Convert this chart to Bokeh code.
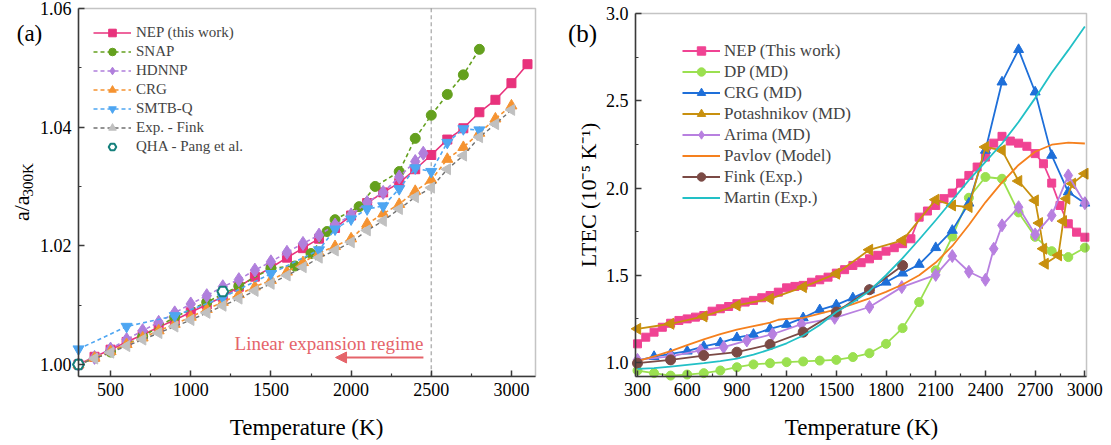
import math
from bokeh.plotting import figure
from bokeh.layouts import row
from bokeh.models import (Range1d, FixedTicker, NumeralTickFormatter, Legend, LegendItem,
                          Label, Arrow, NormalHead, BoxAnnotation)
from bokeh.embed import file_html
from bokeh.resources import INLINE

FONT = "Liberation Serif"

# ---------------- (a) lattice parameter ratio ----------------
T_NEP_A = list(range(300, 3101, 100))
NEP_A = [1.000, 1.0013, 1.0025, 1.0038, 1.0050, 1.0063, 1.0075, 1.0088, 1.0101, 1.0114,
         1.0131, 1.0148, 1.0163, 1.0180, 1.0196, 1.0212, 1.0230, 1.0251, 1.0272, 1.0290,
         1.0306, 1.0329, 1.0353, 1.0379, 1.0398, 1.0425, 1.0446, 1.0474, 1.0506]
T_SNAP = [300, 500, 700, 900, 1100, 1300, 1500, 1650, 1750, 1850, 1900, 2050, 2150,
          2300, 2400, 2500, 2600, 2700, 2800]
SNAP = [1.000, 1.0021, 1.0047, 1.0080, 1.0105, 1.0132, 1.0162, 1.0166, 1.0187, 1.0224,
        1.0244, 1.0266, 1.0300, 1.0325, 1.0381, 1.0420, 1.0455, 1.0488, 1.0531]
T_HDNNP = list(range(300, 2401, 100)) + [2450]
HDNNP = [1.000, 1.0012, 1.0026, 1.0042, 1.0057, 1.0071, 1.0087, 1.0102, 1.0116, 1.0131,
         1.0143, 1.0159, 1.0173, 1.0189, 1.0204, 1.0218, 1.0235, 1.0252, 1.0273, 1.0290,
         1.0316, 1.0342, 1.0356]
T_CRG_A = list(range(300, 3001, 100))
CRG_A = [1.000, 1.0011, 1.0022, 1.0034, 1.0045, 1.0057, 1.0068, 1.0080, 1.0093, 1.0105,
         1.0118, 1.0131, 1.0142, 1.0156, 1.0172, 1.0188, 1.0199, 1.0212, 1.0237, 1.0254,
         1.0270, 1.0292, 1.0311, 1.0346, 1.0366, 1.0390, 1.0414, 1.0436]
T_SMTBQ = [300, 600, 900, 1200, 1500, 1800, 1900, 2000, 2100, 2200, 2300, 2400, 2500,
           2600, 2700, 2800]
SMTBQ = [1.0026, 1.0064, 1.0082, 1.0113, 1.0153, 1.0193, 1.0228, 1.0245, 1.0262, 1.0267,
         1.0296, 1.0331, 1.0325, 1.0374, 1.0397, 1.0395]
T_FINK_A = list(range(300, 3001, 100))
FINK_A = [1.000, 1.0010, 1.0020, 1.0031, 1.0042, 1.0053, 1.0064, 1.0075, 1.0087, 1.0099,
          1.0111, 1.0124, 1.0136, 1.0150, 1.0164, 1.0180, 1.0192, 1.0206, 1.0226, 1.0242,
          1.0262, 1.0282, 1.0298, 1.0329, 1.0352, 1.0383, 1.0405, 1.0429]
T_QHA = [300, 1200]
QHA = [1.000, 1.0123]

XTICKS_A = [500, 1000, 1500, 2000, 2500, 3000]
XMINOR_A = [750, 1250, 1750, 2250, 2750]
YTICKS_A = [1.00, 1.02, 1.04, 1.06]
YMINOR_A = [1.01, 1.03, 1.05]
XLIM_A = (300, 3150)
YLIM_A = (0.998, 1.06)
LINEAR_LIMIT_T = 2500

# ---------------- (b) LTEC ----------------
T_NEP_B = list(range(300, 3001, 50))
NEP_B = [1.107, 1.145, 1.174, 1.202, 1.225, 1.241, 1.250, 1.260, 1.269, 1.294,
         1.308, 1.321, 1.337, 1.346, 1.356, 1.371, 1.384, 1.403, 1.428, 1.436,
         1.442, 1.460, 1.474, 1.489, 1.512, 1.532, 1.556, 1.572, 1.594, 1.614,
         1.638, 1.658, 1.681, 1.709, 1.833, 1.868, 1.900, 1.939, 1.971, 2.028,
         2.072, 2.120, 2.177, 2.257, 2.296, 2.269, 2.257, 2.239, 2.197, 2.139,
         2.028, 1.900, 1.795, 1.747, 1.718]
T_DP = list(range(300, 3001, 100))
DP = [0.954, 0.939, 0.925, 0.931, 0.939, 0.954, 0.973, 0.989, 0.996, 1.002,
      1.006, 1.011, 1.015, 1.031, 1.053, 1.107, 1.197, 1.346, 1.528, 1.722,
      1.944, 2.063, 2.053, 1.860, 1.720, 1.638, 1.604, 1.658]
T_CRG_B = list(range(300, 3001, 100))
CRG_B = [1.011, 1.034, 1.050, 1.065, 1.092, 1.113, 1.142, 1.161, 1.193, 1.218,
         1.256, 1.302, 1.330, 1.370, 1.415, 1.460, 1.512, 1.562, 1.658, 1.757,
         1.913, 2.216, 2.607, 2.793, 2.550, 2.187, 1.977, 1.913]
T_POT = [300, 500, 700, 900, 1100, 1300, 1500, 1700, 1900, 2100, 2200, 2300, 2400, 2500,
         2600, 2700, 2725, 2750, 2760, 2840, 2870, 2890, 2925, 3000]
POT = [1.193, 1.222, 1.264, 1.327, 1.365, 1.432, 1.509, 1.646, 1.700, 1.933, 1.900, 1.891,
       2.235, 2.216, 2.040, 1.929, 1.799, 1.652, 1.566, 1.614, 1.810, 1.939, 2.025, 2.082]
T_ARIMA = [300, 500, 680, 820, 960, 1115, 1290, 1490, 1700, 1895, 2100, 2200, 2300, 2400,
           2450, 2500, 2600, 2700, 2800, 2900, 3000]
ARIMA = [1.015, 1.035, 1.069, 1.088, 1.126, 1.162, 1.220, 1.256, 1.318, 1.432, 1.502, 1.610,
         1.520, 1.474, 1.652, 1.786, 1.890, 1.734, 1.843, 2.072, 1.913]
T_PAV = [300, 400, 500, 600, 700, 800, 900, 1000, 1100, 1150, 1200, 1300, 1400, 1500, 1600,
         1700, 1800, 1900, 2000, 2100, 2200, 2300, 2400, 2500, 2600, 2700, 2800, 2900, 3000]
PAV = [1.008, 1.035, 1.065, 1.100, 1.132, 1.162, 1.188, 1.208, 1.228, 1.245, 1.250, 1.256,
       1.280, 1.305, 1.335, 1.368, 1.405, 1.447, 1.500, 1.573, 1.668, 1.788, 1.918, 2.032,
       2.132, 2.208, 2.248, 2.260, 2.255]
T_FINK_B = [300, 500, 700, 900, 1100, 1300, 1500, 1700, 1900]
FINK_B = [0.996, 1.015, 1.040, 1.059, 1.103, 1.174, 1.289, 1.417, 1.556]
T_MARTIN = list(range(300, 3001, 100))
MARTIN = [0.964, 0.968, 0.976, 0.986, 0.996, 1.008, 1.022, 1.045, 1.075, 1.110,
          1.155, 1.215, 1.289, 1.345, 1.410, 1.500, 1.598, 1.705, 1.815, 1.930,
          2.045, 2.150, 2.255, 2.378, 2.515, 2.660, 2.790, 2.925]

XTICKS_B = list(range(300, 3001, 300))
XMINOR_B = list(range(450, 2851, 300))
YTICKS_B = [1.0, 1.5, 2.0, 2.5, 3.0]
YMINOR_B = [1.25, 1.75, 2.25, 2.75]
XLIM_B = (288, 3010)
YLIM_B = (0.92, 3.0)

AXC = "#3a3a3a"


def style(p, xt, xm, yt, ym, yfmt, xb, yb):
    p.xaxis.ticker = FixedTicker(ticks=xt, minor_ticks=xm)
    p.yaxis.ticker = FixedTicker(ticks=yt, minor_ticks=ym)
    p.yaxis.formatter = NumeralTickFormatter(format=yfmt)
    p.xaxis.bounds = xb
    p.yaxis.bounds = yb
    p.yaxis.fixed_location = xb[0]
    p.xaxis.fixed_location = yb[0]
    p.xgrid.visible = False
    p.ygrid.visible = False
    p.outline_line_color = None
    for ax in (p.xaxis[0], p.yaxis[0]):
        ax.axis_line_color = AXC
        ax.axis_line_width = 1.5
        ax.major_tick_line_color = AXC
        ax.major_tick_line_width = 1.5
        ax.minor_tick_line_color = AXC
        ax.minor_tick_line_width = 1.2
        ax.major_tick_in = 6
        ax.major_tick_out = 0
        ax.minor_tick_in = 3
        ax.minor_tick_out = 0
        ax.major_label_text_font = FONT
        ax.major_label_text_font_size = "18px"
        ax.major_label_text_color = "black"
        ax.major_label_standoff = 7
    p.add_layout(BoxAnnotation(left=xb[0], right=xb[1], bottom=yb[0], top=yb[1],
                               fill_alpha=0, fill_color=None, line_color=AXC,
                               line_width=1.5))


def text(p, x, y, s, size, angle=0.0, align="center", baseline="middle", color="black"):
    p.add_layout(Label(x=x, y=y, text=s, angle=angle, text_align=align,
                       text_baseline=baseline, text_font=FONT, text_font_size=size,
                       text_color=color))


# ================= panel (a) =================
# frame spans the whole figure; axes sit at fixed locations inside it
pa = figure(frame_width=555, frame_height=445, x_range=Range1d(-186.4, 3274.7),
            y_range=Range1d(0.986352, 1.06133), output_backend="svg", toolbar_location=None,
            min_border=0, background_fill_color="white", border_fill_color="white")
style(pa, XTICKS_A, XMINOR_A, YTICKS_A, YMINOR_A, "0.00", XLIM_A, YLIM_A)

pa.segment(x0=[LINEAR_LIMIT_T], y0=[YLIM_A[0]], x1=[LINEAR_LIMIT_T], y1=[YLIM_A[1]],
           line_color="#b5b5b5", line_dash="4 3", line_width=1.5)

DASH = "4 3"
items_a = []
r1 = pa.line(T_NEP_A, NEP_A, line_color="#e8327c", line_width=1.6)
r2 = pa.scatter(T_NEP_A, NEP_A, marker="square", size=9, color="#e8327c")
items_a.append(LegendItem(label="NEP (this work)", renderers=[r1, r2]))
r1 = pa.line(T_SNAP, SNAP, line_color="#64a01e", line_width=1.6, line_dash=DASH)
r2 = pa.scatter(T_SNAP, SNAP, marker="circle", size=10, color="#64a01e")
items_a.append(LegendItem(label="SNAP", renderers=[r1, r2]))
r1 = pa.line(T_HDNNP, HDNNP, line_color="#b07fdc", line_width=1.6, line_dash=DASH)
r2 = pa.scatter(T_HDNNP, HDNNP, marker="diamond", size=14, color="#b07fdc")
items_a.append(LegendItem(label="HDNNP", renderers=[r1, r2]))
r1 = pa.line(T_CRG_A, CRG_A, line_color="#f59331", line_width=1.6, line_dash=DASH)
r2 = pa.scatter(T_CRG_A, CRG_A, marker="triangle", size=11, color="#f59331")
items_a.append(LegendItem(label="CRG", renderers=[r1, r2]))
r1 = pa.line(T_SMTBQ, SMTBQ, line_color="#4ea6f2", line_width=1.6, line_dash=DASH)
r2 = pa.scatter(T_SMTBQ, SMTBQ, marker="inverted_triangle", size=11, color="#4ea6f2")
items_a.append(LegendItem(label="SMTB-Q", renderers=[r1, r2]))
r1 = pa.line(T_FINK_A, FINK_A, line_color="#707070", line_width=1.4, line_dash=DASH)
r2 = pa.scatter(T_FINK_A, FINK_A, marker="triangle", angle=math.pi / 2, size=11,
                color="#c0c0c0")
items_a.append(LegendItem(label="Exp. - Fink", renderers=[r1, r2]))
r2 = pa.scatter(T_QHA, QHA, marker="hex", size=11, fill_color="white",
                line_color="#16807c", line_width=2)
items_a.append(LegendItem(label="QHA - Pang et al.", renderers=[r2]))

leg_a = Legend(items=items_a, location=(93, 289), padding=0, margin=0, spacing=0,
               glyph_width=38, glyph_height=19, label_height=19, label_standoff=5,
               label_text_font=FONT, label_text_font_size="15px",
               background_fill_alpha=0, border_line_alpha=0)
pa.add_layout(leg_a)

text(pa, 2451, 1.00354, "Linear expansion regime", "19px", align="right", color="#e5646a")
pa.add_layout(Arrow(x_start=2451, y_start=1.00118, x_end=1903, y_end=1.00118,
                    line_color="#e5646a", line_width=2,
                    end=NormalHead(size=11, fill_color="#e5646a", line_color="#e5646a")))

text(pa, -55, 1.02417, "a/a", "22px", angle=math.pi / 2, align="left", baseline="alphabetic")
text(pa, -18, 1.02832, "300K", "15px", angle=math.pi / 2, align="left", baseline="alphabetic")
text(pa, -5.5, 1.0558, "(a)", "23px")
text(pa, 1722, 0.98938, "Temperature (K)", "23px")

# ================= panel (b) =================
pb = figure(frame_width=556, frame_height=445, x_range=Range1d(-194.8, 3160.8),
            y_range=Range1d(0.52436, 3.0745), output_backend="svg", toolbar_location=None,
            min_border=0, background_fill_color="white", border_fill_color="white")
style(pb, XTICKS_B, XMINOR_B, YTICKS_B, YMINOR_B, "0.0", XLIM_B, YLIM_B)

items_b = []
LW = 1.8
r1 = pb.line(T_NEP_B, NEP_B, line_color="#f04393", line_width=LW)
r2 = pb.scatter(T_NEP_B, NEP_B, marker="square", size=8, color="#f04393")
items_b.append(LegendItem(label="NEP (This work)", renderers=[r1, r2]))
r1 = pb.line(T_DP, DP, line_color="#9be050", line_width=LW)
r2 = pb.scatter(T_DP, DP, marker="circle", size=9, color="#9be050")
items_b.append(LegendItem(label="DP (MD)", renderers=[r1, r2]))
r1 = pb.line(T_CRG_B, CRG_B, line_color="#1e6fd9", line_width=LW)
r2 = pb.scatter(T_CRG_B, CRG_B, marker="triangle", size=10, color="#1e6fd9")
items_b.append(LegendItem(label="CRG (MD)", renderers=[r1, r2]))
r1 = pb.line(T_POT, POT, line_color="#c8900e", line_width=LW)
r2 = pb.scatter(T_POT, POT, marker="triangle", angle=math.pi / 2, size=11, color="#c8900e")
items_b.append(LegendItem(label="Potashnikov (MD)", renderers=[r1, r2]))
r1 = pb.line(T_ARIMA, ARIMA, line_color="#b880e0", line_width=LW)
r2 = pb.scatter(T_ARIMA, ARIMA, marker="diamond", size=13, color="#b880e0")
items_b.append(LegendItem(label="Arima (MD)", renderers=[r1, r2]))
r1 = pb.line(T_PAV, PAV, line_color="#f5801e", line_width=LW)
items_b.append(LegendItem(label="Pavlov (Model)", renderers=[r1]))
r1 = pb.line(T_FINK_B, FINK_B, line_color="#7b4a45", line_width=LW)
r2 = pb.scatter(T_FINK_B, FINK_B, marker="circle", size=10, color="#7b4a45")
items_b.append(LegendItem(label="Fink (Exp.)", renderers=[r1, r2]))
r1 = pb.line(T_MARTIN, MARTIN, line_color="#22c0c6", line_width=LW)
items_b.append(LegendItem(label="Martin (Exp.)", renderers=[r1]))

leg_b = Legend(items=items_b, location=(127, 237), padding=0, margin=0, spacing=0,
               glyph_width=38, glyph_height=21, label_height=21, label_standoff=4,
               label_text_font=FONT, label_text_font_size="17px",
               background_fill_alpha=0, border_line_alpha=0)
pb.add_layout(leg_b)

text(pb, 4.6, 1.96, "LTEC (10\u207b\u2075 K\u207b\u00b9)", "22px", angle=math.pi / 2,
     baseline="alphabetic")
text(pb, -31.9, 2.885, "(b)", "25px")
text(pb, 1652, 0.62751, "Temperature (K)", "23px")

layout = row(pa, pb)
open("out.html", "w").write(file_html(layout, INLINE))
